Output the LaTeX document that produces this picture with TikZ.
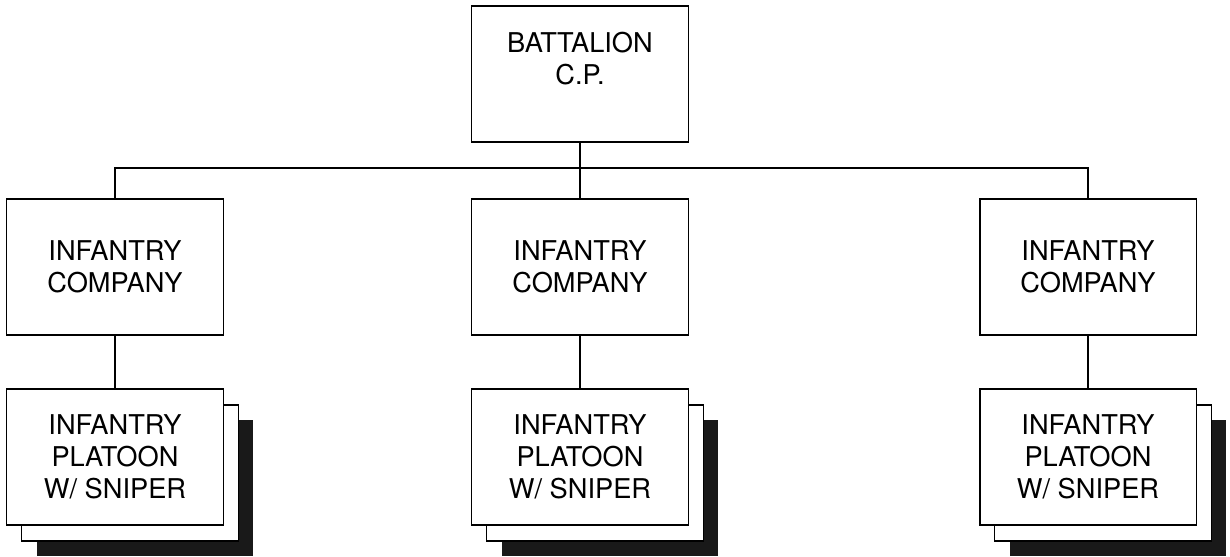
\documentclass[tikz,border=0pt]{standalone}
\usepackage{fontspec}
\setmainfont{TeX Gyre Heros}
\usetikzlibrary{shadows}

\begin{document}
\begin{tikzpicture}[x=0.02cm,y=-0.02cm,line width=1.1pt,
  unit/.style={draw,fill=white,minimum width=4.34cm,minimum height=2.72cm,
    align=center,inner sep=0pt,font=\fontsize{15.5}{18.2}\selectfont},
  stack/.style={unit,
    general shadow={fill=black!90,shadow xshift=0.6cm,shadow yshift=-0.62cm},
    copy shadow={shadow xshift=0.3cm,shadow yshift=-0.32cm}}]
  \useasboundingbox (0,0) rectangle (1230,557);
  \node[unit] (bat) at (580,74) {BATTALION\\C.P.\\\mbox{}};
  \coordinate (bus) at (580,168);
  % companies
  \node[unit] (c1) at (115,267) {INFANTRY\\COMPANY};
  \node[unit] (c2) at (580,267) {INFANTRY\\COMPANY};
  \node[unit] (c3) at (1088,267) {INFANTRY\\COMPANY};
  % platoons
  \node[stack] (p1) at (115,457) {INFANTRY\\PLATOON\\W/ SNIPER};
  \node[stack] (p2) at (580,457) {INFANTRY\\PLATOON\\W/ SNIPER};
  \node[stack] (p3) at (1088,457) {INFANTRY\\PLATOON\\W/ SNIPER};
  \draw (bat) -- (c2);
  \draw (c1.north) -- (c1.north |- bus) -- (c3.north |- bus) -- (c3.north);
  \foreach \i in {1,2,3}
    \draw (c\i.south) -- (p\i.north);
\end{tikzpicture}
\end{document}
